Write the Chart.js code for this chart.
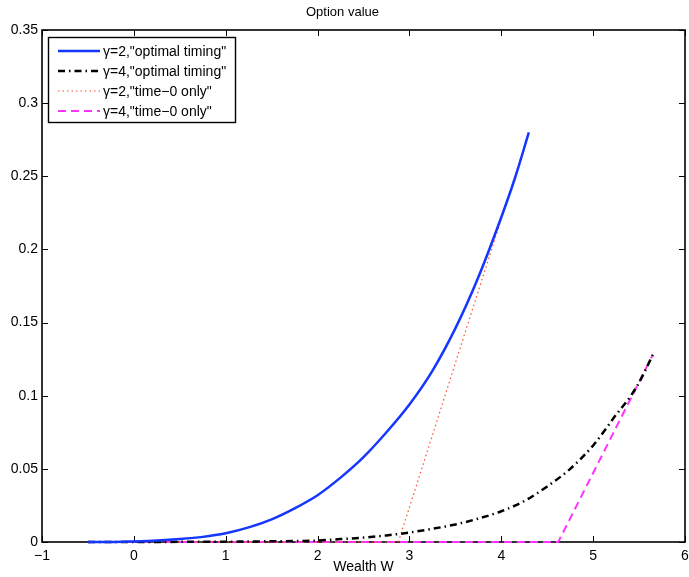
<!DOCTYPE html>
<html>
<head>
<meta charset="utf-8">
<script src="https://cdn.jsdelivr.net/npm/chart.js@4"></script>
<style>
  html, body { margin: 0; padding: 0; background: #fff; }
  #grafica { display: block; }
</style>
</head>
<body>
<canvas id="grafica"></canvas>
<script>
// datos
const xTicks = [-1, 0, 1, 2, 3, 4, 5, 6];
const yTicks = [0, 0.05, 0.1, 0.15, 0.2, 0.25, 0.3, 0.35];

const g2OptX = [-0.5, -0.25, 0, 0.25, 0.5, 0.75, 1, 1.25, 1.5, 1.75, 2, 2.25, 2.5, 2.75, 3, 3.25, 3.5, 3.75, 4, 4.15, 4.3];
const g2OptY = [0, 0, 0.0004, 0.001, 0.002, 0.0035, 0.006, 0.010, 0.0155, 0.023, 0.032, 0.044, 0.058, 0.075, 0.094, 0.117, 0.146, 0.181, 0.222, 0.249, 0.280];

const g4OptX = [-0.5, 0, 0.5, 1, 1.5, 2, 2.25, 2.5, 2.75, 3, 3.25, 3.5, 3.75, 4, 4.25, 4.5, 4.75, 5, 5.25, 5.4, 5.5, 5.65];
const g4OptY = [0, 0, 0.0001, 0.0002, 0.0005, 0.001, 0.002, 0.003, 0.0045, 0.0065, 0.009, 0.012, 0.016, 0.021, 0.028, 0.038, 0.050, 0.066, 0.087, 0.099, 0.109, 0.128];

const g2T0X = [-0.5, 2.88, 4.3];
const g2T0Y = [0, 0, 0.280];

const g4T0X = [-0.5, 4.62, 5.65];
const g4T0Y = [0, 0, 0.128];

const etiquetas = [
    'γ=2,"optimal timing"',
    'γ=4,"optimal timing"',
    'γ=2,"time\u22120 only"',
    'γ=4,"time\u22120 only"'
];

const fuente = "'Liberation Sans', Arial, Helvetica, sans-serif";

function puntos(xs, ys) {
    return xs.map((x, i) => ({ x: x, y: ys[i] }));
}

// marco con ticks hacia dentro (debajo de las lineas) y leyenda encima
const marcoPlugin = {
    id: "marco",
    beforeDatasetsDraw(chart) {
        const ctx = chart.ctx;
        const a = chart.chartArea;
        const sx = chart.scales.x, sy = chart.scales.y;
        const largo = 6;
        ctx.save();
        ctx.strokeStyle = "#000";
        ctx.lineWidth = 1;
        ctx.beginPath();
        xTicks.forEach(v => {
            const px = Math.round(sx.getPixelForValue(v)) + 0.5;
            ctx.moveTo(px, a.bottom); ctx.lineTo(px, a.bottom - largo);
            ctx.moveTo(px, a.top); ctx.lineTo(px, a.top + largo);
        });
        yTicks.forEach(v => {
            const py = Math.round(sy.getPixelForValue(v)) + 0.5;
            ctx.moveTo(a.left, py); ctx.lineTo(a.left + largo, py);
            ctx.moveTo(a.right, py); ctx.lineTo(a.right - largo, py);
        });
        ctx.stroke();
        ctx.lineWidth = 1.6;
        ctx.strokeRect(a.left, a.top, a.right - a.left, a.bottom - a.top);
        ctx.restore();
    },
    afterDraw(chart) {
        const ctx = chart.ctx;
        const lx = 48, ly = 37, lw = 187, lh = 85;
        ctx.save();
        ctx.fillStyle = "#fff";
        ctx.fillRect(lx, ly, lw, lh);
        ctx.lineWidth = 1.4;
        ctx.strokeStyle = "#000";
        ctx.strokeRect(lx + 0.5, ly + 0.5, lw, lh);
        ctx.font = "14px " + fuente;
        ctx.textBaseline = "middle";
        chart.data.datasets.forEach((ds, i) => {
            const y = ly + 14 + i * 20;
            ctx.beginPath();
            ctx.setLineDash(ds.borderDash || []);
            ctx.strokeStyle = ds.borderColor;
            ctx.lineWidth = ds.borderWidth;
            ctx.moveTo(lx + 10, y);
            ctx.lineTo(lx + 52, y);
            ctx.stroke();
            ctx.setLineDash([]);
            ctx.fillStyle = "#000";
            ctx.fillText(ds.label, lx + 55, y + 1);
        });
        ctx.restore();
    }
};

document.addEventListener("DOMContentLoaded", function () {
    const canvas = document.getElementById("grafica");
    canvas.width = 689;
    canvas.height = 577;

    new Chart(canvas, {
        type: "line",
        data: {
            datasets: [
                {
                    label: etiquetas[0],
                    data: puntos(g2OptX, g2OptY),
                    borderColor: "#1436ff",
                    borderWidth: 2.5,
                    cubicInterpolationMode: "monotone"
                },
                {
                    label: etiquetas[1],
                    data: puntos(g4OptX, g4OptY),
                    borderColor: "#000000",
                    borderWidth: 2.5,
                    borderDash: [7, 4, 1.5, 4],
                    cubicInterpolationMode: "monotone"
                },
                {
                    label: etiquetas[2],
                    data: puntos(g2T0X, g2T0Y),
                    borderColor: "#ff4a30",
                    borderWidth: 1.2,
                    borderDash: [1.5, 3]
                },
                {
                    label: etiquetas[3],
                    data: puntos(g4T0X, g4T0Y),
                    borderColor: "#ff33ff",
                    borderWidth: 2,
                    borderDash: [8, 5]
                }
            ]
        },
        options: {
            responsive: false,
            animation: false,
            clip: 3,
            layout: { padding: { left: 0, right: 4, top: 0, bottom: 0 } },
            elements: { point: { radius: 0 } },
            plugins: {
                legend: { display: false },
                tooltip: { enabled: false },
                title: {
                    display: true,
                    text: "Option value",
                    color: "#000",
                    font: { family: fuente, size: 13, weight: "normal" },
                    padding: { top: 5, bottom: 9.4 }
                }
            },
            scales: {
                x: {
                    type: "linear",
                    min: -1,
                    max: 6,
                    afterBuildTicks: s => { s.ticks = xTicks.map(v => ({ value: v })); },
                    afterFit: s => { s.height = 35; s.paddingLeft = 0; s.paddingRight = 0; },
                    grid: { display: false, drawTicks: false },
                    border: { display: false },
                    ticks: {
                        color: "#000",
                        padding: 6,
                        maxRotation: 0,
                        font: { family: fuente, size: 14 },
                        callback: v => (v < 0 ? "\u2212" + Math.abs(v) : String(v))
                    },
                    title: {
                        display: true,
                        text: "Wealth W",
                        color: "#000",
                        font: { family: fuente, size: 14 },
                        padding: { top: 0, bottom: 1 }
                    }
                },
                y: {
                    type: "linear",
                    min: 0,
                    max: 0.35,
                    afterBuildTicks: s => { s.ticks = yTicks.map(v => ({ value: v })); },
                    afterFit: s => { s.width = 42; s.paddingTop = 0; s.paddingBottom = 0; },
                    grid: { display: false, drawTicks: false },
                    border: { display: false },
                    ticks: {
                        color: "#000",
                        padding: 4,
                        font: { family: fuente, size: 14 },
                        callback: v => String(parseFloat(v.toFixed(2)))
                    }
                }
            }
        },
        plugins: [marcoPlugin]
    });
});
</script>
</body>
</html>
